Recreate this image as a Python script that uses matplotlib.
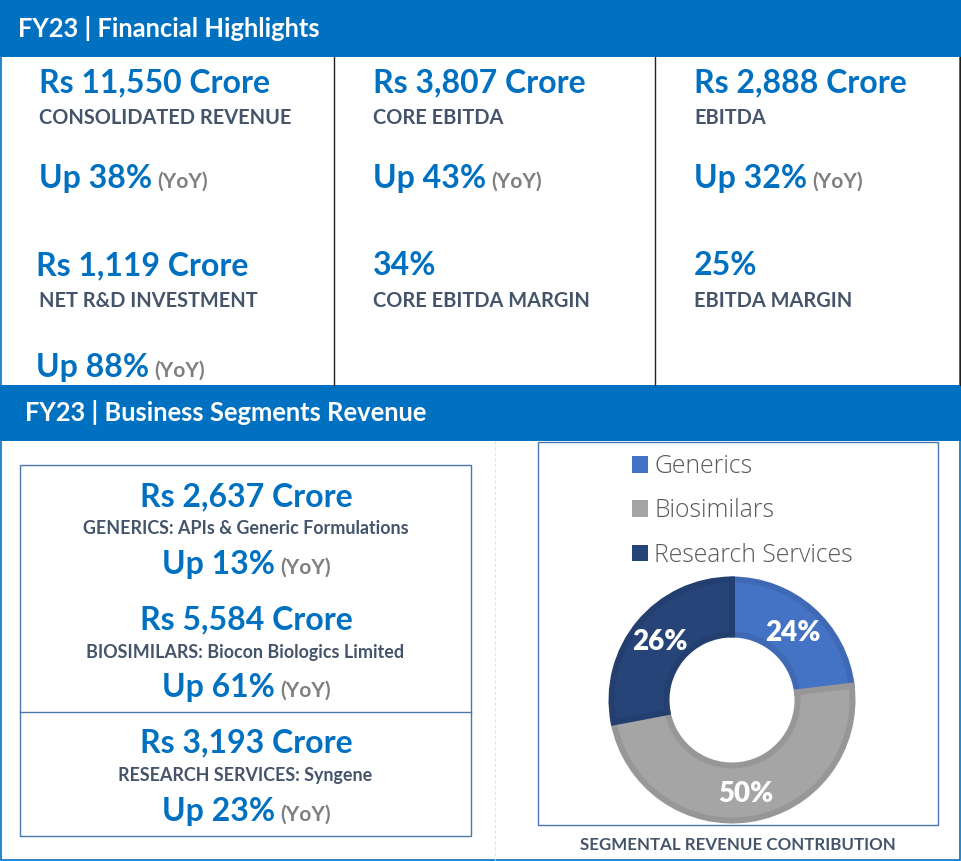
import matplotlib
matplotlib.use('Agg')
import matplotlib.pyplot as plt
from matplotlib.patches import Rectangle

plt.rcParams['font.family'] = ['Lato', 'DejaVu Sans']

# Data from the picture
header_titles = ['FY23 | Financial Highlights', 'FY23 | Business Segments Revenue']

top_amounts = ['Rs 11,550 Crore', 'Rs 3,807 Crore', 'Rs 2,888 Crore', 'Rs 1,119 Crore', '34%', '25%']
top_labels = ['CONSOLIDATED REVENUE', 'CORE EBITDA', 'EBITDA', 'NET R&D INVESTMENT', 'CORE EBITDA MARGIN', 'EBITDA MARGIN']
top_changes = ['Up 38%', 'Up 43%', 'Up 32%', 'Up 88%']

segment_amounts = ['Rs 2,637 Crore', 'Rs 5,584 Crore', 'Rs 3,193 Crore']
segment_labels = ['GENERICS: APIs & Generic Formulations', 'BIOSIMILARS: Biocon Biologics Limited', 'RESEARCH SERVICES: Syngene']
segment_changes = ['Up 13%', 'Up 61%', 'Up 23%']

pie_names = ['Generics', 'Biosimilars', 'Research Services']
pie_values = [2637, 5584, 3193]
pie_labels = ['24%', '50%', '26%']

BLUE = '#0070C0'
SLATE = '#44546A'
GREY = '#7F7F7F'
BOX = '#4A76AE'
BIG = 23
SMALL = 14.4

fig = plt.figure(figsize=(9.62, 8.61), dpi=100)
ax = fig.add_axes([0, 0, 1, 1])
ax.set_xlim(0, 962)
ax.set_ylim(861, 0)
ax.axis('off')

# outer frame and header bands
ax.add_patch(Rectangle((0.5, 0.5), 959.5, 859, fill=False, edgecolor=BLUE, lw=1.2))
ax.add_patch(Rectangle((0, 0), 962, 57, color=BLUE, lw=0))
ax.add_patch(Rectangle((0, 385), 962, 56, color=BLUE, lw=0))
ax.text(18.5, 37, header_titles[0], color='white', fontsize=18.4, fontweight='bold', va='baseline')
ax.text(25.5, 421, header_titles[1], color='white', fontsize=18.4, fontweight='bold', va='baseline')

# column dividers
for x in [334.5, 655.5, 960]:
    ax.plot([x, x], [57, 385], color='#222222', lw=1)
ax.plot([495.5, 495.5], [441, 860], color='#E3E3E3', lw=0.8, ls=(0, (3, 2)))


def change_text(x, y, change, yoy_x):
    ax.text(x, y, change, color=BLUE, fontsize=BIG, fontweight='bold', va='baseline')
    ax.text(yoy_x, y, '(YoY)', color=GREY, fontsize=15, fontweight='bold', va='baseline')


# top table
amount_x = [39, 373, 694, 36, 373, 694]
label_x = [39, 373, 694, 39, 373, 694]
for i in range(6):
    row_y = 92 if i < 3 else 275
    ax.text(amount_x[i], row_y, top_amounts[i], color=BLUE, fontsize=BIG, fontweight='bold', va='baseline')
    ax.text(label_x[i], row_y + 32, top_labels[i], color=SLATE, fontsize=SMALL, fontweight='bold', va='baseline')
change_text(39, 188, top_changes[0], 157)
change_text(373, 188, top_changes[1], 491)
change_text(694, 188, top_changes[2], 812)
change_text(36, 377, top_changes[3], 154)

# segment box
ax.add_patch(Rectangle((20.5, 465), 451, 371, fill=False, edgecolor=BOX, lw=1))
ax.plot([20.5, 471.5], [712, 712], color=BOX, lw=1)
amount_y = [506, 629, 752]
label_y = [534, 658, 781]
change_y = [574, 697, 821]
for i in range(3):
    ax.text(246, amount_y[i], segment_amounts[i], color=BLUE, fontsize=BIG, fontweight='bold', ha='center', va='baseline')
    ax.text(245.5, label_y[i], segment_labels[i], color=SLATE, fontsize=12.85, fontweight='bold', ha='center', va='baseline')
    change_text(162, change_y[i], segment_changes[i], 280)

# donut panel
ax.add_patch(Rectangle((538.5, 442), 400, 383, fill=False, edgecolor=BOX, lw=1))
ax.text(738, 850, 'SEGMENTAL REVENUE CONTRIBUTION', color=SLATE, fontsize=12.2, fontweight='bold', ha='center', va='baseline')

pie_ax = fig.add_axes([(732 - 130) / 962, 1 - (700 + 130) / 861, 260 / 962, 260 / 861])
wedges, _ = pie_ax.pie(pie_values, colors=['#4472C4', '#A5A5A5', '#264478'], startangle=90, counterclock=False,
                       radius=120.5, center=(0, 0), frame=True,
                       wedgeprops={'width': 55, 'linewidth': 4.3})
for w, edge in zip(wedges, ['#3F69B5', '#979797', '#233F6F']):
    w.set_edgecolor(edge)
pie_ax.set_xlim(-130, 130)
pie_ax.set_ylim(-130, 130)
pie_ax.axis('off')

pie_label_x = [793, 746, 660]
pie_label_y = [633, 794, 642]
for i in range(3):
    pie_ax.text(pie_label_x[i] - 732, 700 - pie_label_y[i], pie_labels[i], color='white', fontsize=20, fontweight='heavy', ha='center', va='center')

leg = fig.legend(wedges, pie_names, loc='upper left', bbox_to_anchor=(632 / 962, 1 - 454 / 861), frameon=False,
                 labelcolor='#595959', handlelength=0.65, handleheight=0.65, handletextpad=0.25, borderaxespad=0,
                 borderpad=0, labelspacing=0.78, prop={'family': 'Open Sans', 'weight': 'light', 'size': 17.8})
for handle, col in zip(leg.legend_handles, ['#4472C4', '#A5A5A5', '#264478']):
    handle.set_edgecolor(col)
    handle.set_linewidth(0)

fig.savefig('out.png', dpi=100)
